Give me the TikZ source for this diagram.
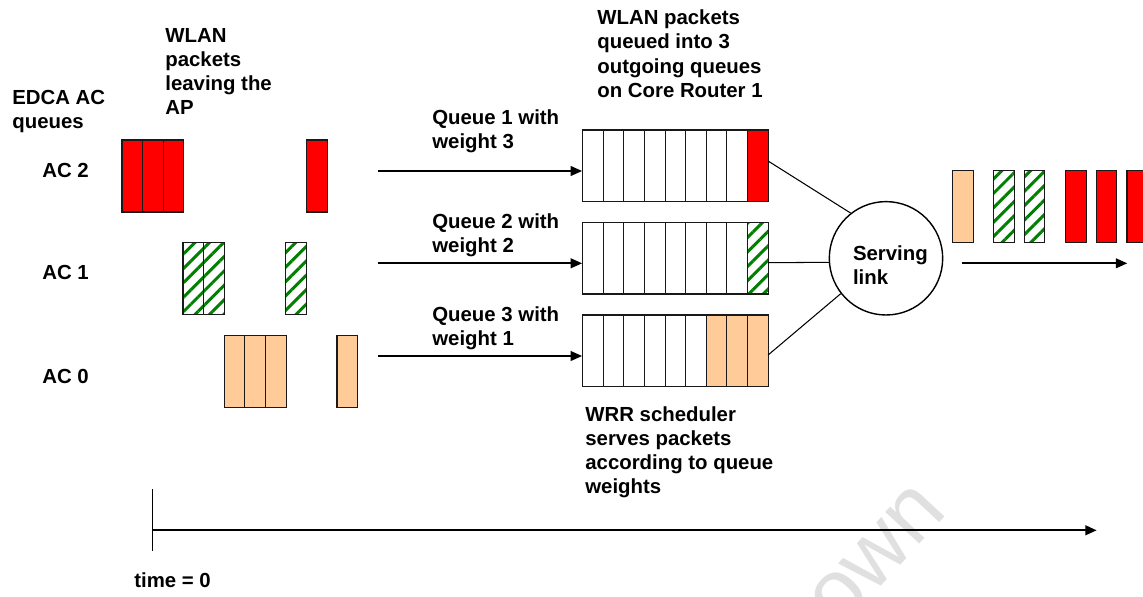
\documentclass[tikz,border=0pt]{standalone}
\usepackage{fontspec}
\setmainfont{Liberation Sans}
\usetikzlibrary{arrows.meta,patterns.meta}
\definecolor{pktred}{HTML}{FF0000}
\definecolor{pkttan}{HTML}{FFCC99}
\definecolor{pktgreen}{HTML}{008000}
\tikzset{
  lbl/.style={anchor=base west, inner sep=0pt, align=left, font=\fontsize{11.6}{13.8}\selectfont\bfseries},
  pkt/.style={rectangle, draw=black!90, line width=0.65pt, minimum width=0.412cm, minimum height=1.44cm, inner sep=0pt},
  redpkt/.style={pkt, fill=pktred},
  tanpkt/.style={pkt, fill=pkttan},
  grnpkt/.style={pkt, pattern={Lines[angle=45,distance=5.8pt,line width=1.7pt]}, pattern color=pktgreen},
  cell/.style={pkt, minimum height=1.434cm, fill=white},
  flow/.style={line width=1pt, -{Triangle[length=6.5pt,width=5.5pt]}},
}
\begin{document}
\begin{tikzpicture}[x=0.02cm, y=-0.02cm]
\useasboundingbox (0,0) rectangle (1143,596);
\clip (0,0) rectangle (1143,596);
% watermark
\node[text=black!12, rotate=47, font=\fontsize{50}{50}\selectfont] (mark) at (877,556) {own};
% texts (anchored at the baseline of the last line)
\node[lbl] (edca) at (12,128.3) {EDCA AC\\queues};
\node[lbl] (leaving) at (165,114.9) {WLAN\\packets\\leaving the\\AP};
\node[lbl] (ac2) at (42,177) {AC 2};
\node[lbl] (ac1) at (42,279) {AC 1};
\node[lbl] (ac0) at (42,383) {AC 0};
\node[lbl] (w1) at (432,148.3) {Queue 1 with\\weight 3};
\node[lbl] (w2) at (432,252.3) {Queue 2 with\\weight 2};
\node[lbl] (w3) at (432,345.3) {Queue 3 with\\weight 1};
\node[lbl] (queued) at (597,97.4) {WLAN packets\\queued into 3\\outgoing queues\\on Core Router 1};
\node[lbl] (wrr) at (585,493.9) {WRR scheduler\\serves packets\\according to queue\\weights};
\node[lbl] (time) at (134,587) {time = 0};
% AC 2 packets
\node[redpkt] (a2p1) at (132.3,176) {};
\node[redpkt] (a2p2) at (152.9,176) {};
\node[redpkt] (a2p3) at (173.5,176) {};
\node[redpkt] (a2p4) at (316.9,176) {};
% AC 1 packets
\node[grnpkt] (a1p1) at (193.3,278.9) {};
\node[grnpkt] (a1p2) at (213.9,278.9) {};
\node[grnpkt] (a1p3) at (296,278.9) {};
% AC 0 packets
\node[tanpkt] (a0p1) at (234.6,371.2) {};
\node[tanpkt] (a0p2) at (255.2,371.2) {};
\node[tanpkt] (a0p3) at (275.8,371.2) {};
\node[tanpkt] (a0p4) at (347.3,371.2) {};
% queue 1
\node[cell] (q1c1) at (593.0,165.9) {};
\node[cell] (q1c2) at (613.6,165.9) {};
\node[cell] (q1c3) at (634.2,165.9) {};
\node[cell] (q1c4) at (654.8,165.9) {};
\node[cell] (q1c5) at (675.4,165.9) {};
\node[cell] (q1c6) at (696.0,165.9) {};
\node[cell] (q1c7) at (716.6,165.9) {};
\node[cell] (q1c8) at (737.2,165.9) {};
\node[cell, fill=pktred] (q1c9) at (757.8,165.9) {};
% queue 2
\node[cell] (q2c1) at (593.0,258.2) {};
\node[cell] (q2c2) at (613.6,258.2) {};
\node[cell] (q2c3) at (634.2,258.2) {};
\node[cell] (q2c4) at (654.8,258.2) {};
\node[cell] (q2c5) at (675.4,258.2) {};
\node[cell] (q2c6) at (696.0,258.2) {};
\node[cell] (q2c7) at (716.6,258.2) {};
\node[cell] (q2c8) at (737.2,258.2) {};
\node[grnpkt, minimum height=1.434cm] (q2c9) at (757.8,258.2) {};
% queue 3
\node[cell] (q3c1) at (593.0,350.9) {};
\node[cell] (q3c2) at (613.6,350.9) {};
\node[cell] (q3c3) at (634.2,350.9) {};
\node[cell] (q3c4) at (654.8,350.9) {};
\node[cell] (q3c5) at (675.4,350.9) {};
\node[cell] (q3c6) at (696.0,350.9) {};
\node[cell, fill=pkttan] (q3c7) at (716.6,350.9) {};
\node[cell, fill=pkttan] (q3c8) at (737.2,350.9) {};
\node[cell, fill=pkttan] (q3c9) at (757.8,350.9) {};
% serving link
\node[circle, draw, line width=0.8pt, minimum size=2.268cm, inner sep=0pt] (link) at (886,258.3) {};
\node[lbl] (linktext) at (852.7,284.3) {Serving\\link};
% packets on the link
\node[tanpkt] (o1) at (963,206.5) {};
\node[grnpkt] (o2) at (1004,206.5) {};
\node[grnpkt] (o3) at (1034.6,206.5) {};
\node[redpkt] (o4) at (1076,206.5) {};
\node[redpkt] (o5) at (1106.6,206.5) {};
\node[redpkt] (o6) at (1137.3,206.5) {};
% arrows into the queues
\coordinate (in1) at (378,171);
\coordinate (in2) at (378,263.3);
\coordinate (in3) at (378,356);
\draw[flow] (in1) -- (in1 -| q1c1.west);
\draw[flow] (in2) -- (in2 -| q2c1.west);
\draw[flow] (in3) -- (in3 -| q3c1.west);
% queues to the link
\coordinate (out1) at (768.1,161);
\coordinate (out2) at (768.1,262.7);
\coordinate (out3) at (768.1,355);
\draw[line width=0.6pt] (out1) -- (link.128);
\draw[line width=0.6pt] (out2) -- (link.184);
\draw[line width=0.6pt] (out3) -- (link.218);
% outgoing arrow
\coordinate (lk0) at (962.3,263.3);
\coordinate (lk1) at (1127.3,263.3);
\draw[flow] (lk0) -- (lk1);
% time axis
\coordinate (t0top) at (152.3,489);
\coordinate (t0bot) at (152.3,551);
\coordinate (t0) at (152.3,530.3);
\coordinate (tend) at (1096.7,530.3);
\draw[line width=0.7pt] (t0top) -- (t0bot);
\draw[flow, line width=1.3pt] (t0) -- (tend);
\end{tikzpicture}
\end{document}
